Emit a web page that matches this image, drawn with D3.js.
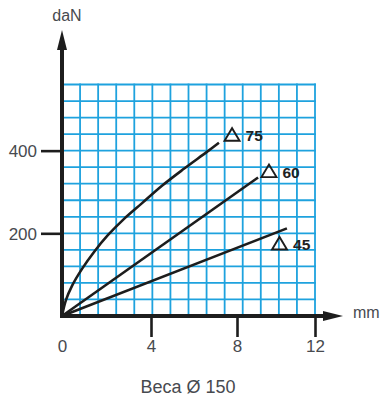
<!DOCTYPE html>
<meta charset="utf-8">
<script src="https://d3js.org/d3.v7.min.js"></script>
<style>
  body { margin: 0; background: #fff; }
  text { font-family: "Liberation Sans", Arial, sans-serif; }
</style>
<div id="chart"></div>
<script>

// values
const xTicks = [0, 4, 8, 12];          // mm
const yTicks = [200, 400];             // daN
const curve75 = [[0, 0], [0.18, 39], [0.45, 73], [0.9, 114], [1.44, 155], [2.07, 196],
                 [2.79, 235], [3.6, 273], [4.51, 315], [5.53, 356], [6.6, 397],
                 [7.16, 419]];
const line60 = [[0, 0], [9.08, 335]];
const line45 = [[0, 0], [10.56, 212]];
const seriesNames = ["75", "60", "45"];
// label anchors (mm, daN) : triangle centre / base
const labelAt = [[7.77, 424], [9.64, 336], [10.18, 161]];

const W = 381, H = 401;
const svg = d3.select("#chart").append("svg")
    .attr("width", W).attr("height", H);

// the printed axis is not quite even, so the x scale follows the tick marks
const x = d3.scaleLinear().domain(xTicks).range([62, 151, 237, 315]);
const y = d3.scaleLinear().domain([0, 560]).range([316, 84.5]);

// grid 14 x 14 cells
const gx = d3.scaleLinear().domain([0, 14]).range([62, 315]);
const grid = svg.append("g").attr("stroke", "#1ea2de").attr("stroke-width", 1.8);
grid.selectAll(".v").data(d3.range(1, 15)).join("line")
    .attr("x1", d => gx(d)).attr("x2", d => gx(d))
    .attr("y1", y(0)).attr("y2", y(560) - 0.9);
grid.selectAll(".h").data(d3.range(1, 15)).join("line")
    .attr("x1", x(0)).attr("x2", gx(14) + 0.9)
    .attr("y1", d => y(d * 40)).attr("y2", d => y(d * 40));

// curves
const ink = "#1d1d1d";
svg.append("path").datum(curve75)
    .attr("d", d3.line().x(d => x(d[0])).y(d => y(d[1])).curve(d3.curveCatmullRom))
    .attr("fill", "none").attr("stroke", ink).attr("stroke-width", 2.6);
[line60, line45].forEach(s => {
  svg.append("path").datum(s)
      .attr("d", d3.line().x(d => x(d[0])).y(d => y(d[1])))
      .attr("fill", "none").attr("stroke", ink).attr("stroke-width", 2.6);
});

// triangle + label
const lab = svg.append("g").selectAll("g").data(labelAt).join("g")
    .attr("transform", d => `translate(${x(d[0])},${y(d[1])})`);
lab.append("path")
    .attr("d", "M-7.5,0 L7.5,0 L0,-12.5 Z")
    .attr("fill", "none").attr("stroke", ink).attr("stroke-width", 1.9);
lab.append("text")
    .attr("x", 13.5).attr("y", 0.5)
    .attr("font-size", 15.5).attr("font-weight", "bold").attr("fill", "#222")
    .text((d, i) => seriesNames[i]);

// axes ticks and labels
const yAxis = svg.append("g").attr("transform", `translate(${x(0)},0)`)
    .call(d3.axisLeft(y).tickValues(yTicks).tickSize(21).tickPadding(4));
const xAxis = svg.append("g").attr("transform", `translate(0,${y(0)})`)
    .call(d3.axisBottom(x).tickValues(xTicks).tickSize(21).tickPadding(3));
[yAxis, xAxis].forEach(a => {
  a.select(".domain").remove();
  a.selectAll(".tick line").attr("stroke", ink).attr("stroke-width", 2.6);
  a.selectAll(".tick text").attr("font-size", 17).attr("fill", "#474a4f")
      .attr("font-family", "Liberation Sans, Arial, sans-serif");
});
yAxis.selectAll(".tick text").attr("dy", "0.36em");
xAxis.selectAll(".tick").filter(d => d === 0).select("line").remove();

// thick axis lines with arrows
svg.append("line").attr("x1", x(0)).attr("x2", x(0)).attr("y1", y(0) + 2).attr("y2", 48)
    .attr("stroke", ink).attr("stroke-width", 4);
svg.append("path").attr("d", `M${x(0) - 5},50 L${x(0) + 5},50 L${x(0)},30 Z`).attr("fill", ink);
svg.append("line").attr("x1", x(0) - 2).attr("x2", 326).attr("y1", y(0)).attr("y2", y(0))
    .attr("stroke", ink).attr("stroke-width", 4);
svg.append("path").attr("d", `M323,${y(0) - 5} L323,${y(0) + 5} L343,${y(0)} Z`).attr("fill", ink);

// unit labels and title
svg.append("text").attr("x", 67).attr("y", 21).attr("text-anchor", "middle")
    .attr("font-size", 16).attr("fill", "#474a4f").text("daN");
svg.append("text").attr("x", 353).attr("y", 318)
    .attr("font-size", 16).attr("fill", "#474a4f").text("mm");
svg.append("text").attr("x", 188).attr("y", 393).attr("text-anchor", "middle")
    .attr("font-size", 18).attr("fill", "#474a4f").text("Beca Ø 150");

</script>
